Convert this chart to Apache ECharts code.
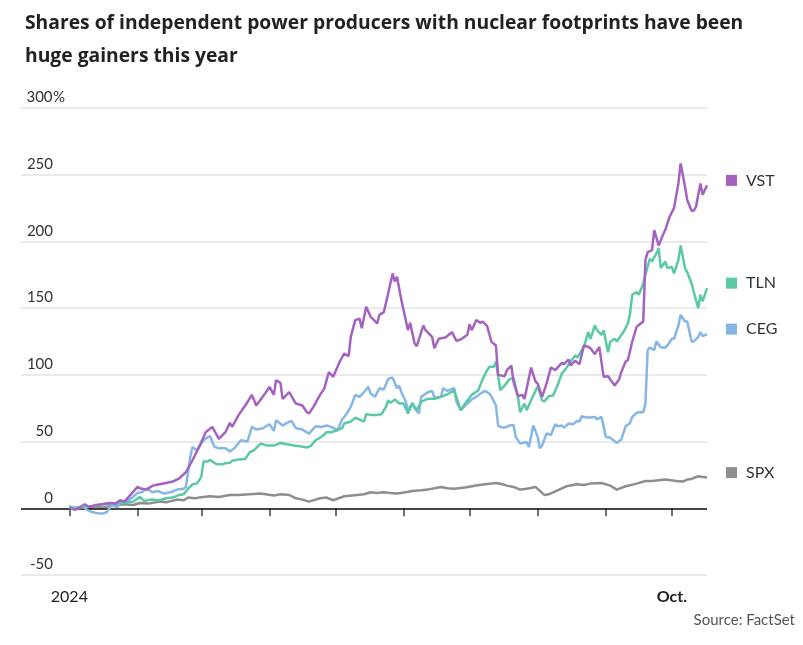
<!DOCTYPE html>
<html><head><meta charset="utf-8">
<script src="https://cdn.jsdelivr.net/npm/echarts@6/dist/echarts.min.js"></script>
<style>html,body{margin:0;padding:0;background:#fff}#c{width:803px;height:645px}</style>
</head><body><div id="c"></div>
<script>
const titleText = 'Shares of independent power producers with nuclear footprints have been\nhuge gainers this year';
const sourceText = 'Source: FactSet';
const seriesNames = ['VST', 'TLN', 'CEG', 'SPX'];
const seriesColors = ['#a463c0', '#5bc8a6', '#86b6e4', '#8e8e8e'];

const vst = [["2024-01-01",0],["2024-01-04",-1],["2024-01-06",1],["2024-01-08",3],["2024-01-10",1],["2024-01-13",2.5],["2024-01-16",3],["2024-01-19",4],["2024-01-22",3.5],["2024-01-24",6],["2024-01-26",5],["2024-01-28",8.5],["2024-02-01",16],["2024-02-02",15],["2024-02-05",14],["2024-02-08",17],["2024-02-11",18],["2024-02-14",19],["2024-02-17",20],["2024-02-20",22.5],["2024-02-23",27],["2024-02-26",36],["2024-02-29",46],["2024-03-03",57],["2024-03-06",61],["2024-03-09",52],["2024-03-12",57],["2024-03-14",64],["2024-03-15",61],["2024-03-18",70],["2024-03-21",77],["2024-03-24",85],["2024-03-26",77],["2024-03-30",86],["2024-04-01",91],["2024-04-03",85],["2024-04-04",96],["2024-04-06",94],["2024-04-07",82],["2024-04-10",87],["2024-04-13",78.5],["2024-04-16",77],["2024-04-18",72],["2024-04-19",71],["2024-04-21",76],["2024-04-24",85],["2024-04-26",90],["2024-04-28",102],["2024-04-30",98.5],["2024-05-03",110],["2024-05-05",116],["2024-05-07",114],["2024-05-08",128.5],["2024-05-10",141],["2024-05-12",142],["2024-05-13",135],["2024-05-15",151],["2024-05-17",143.5],["2024-05-18",142],["2024-05-20",138.5],["2024-05-21",145],["2024-05-23",147],["2024-05-25",161],["2024-05-27",176],["2024-05-28",170],["2024-05-29",173.5],["2024-05-31",156],["2024-06-02",141],["2024-06-03",133.5],["2024-06-04",139],["2024-06-06",123.5],["2024-06-07",121.5],["2024-06-10",137],["2024-06-11",133.5],["2024-06-14",128.5],["2024-06-15",120],["2024-06-17",127],["2024-06-20",128],["2024-06-23",132],["2024-06-25",125.5],["2024-06-27",126.5],["2024-06-30",130],["2024-07-01",138],["2024-07-02",133.5],["2024-07-04",141],["2024-07-06",139],["2024-07-07",140],["2024-07-09",136.5],["2024-07-11",124.7],["2024-07-13",122],["2024-07-14",100],["2024-07-17",99],["2024-07-18",103.5],["2024-07-20",107],["2024-07-21",95],["2024-07-23",84],["2024-07-25",85],["2024-07-26",82],["2024-07-29",105.5],["2024-07-31",95],["2024-08-01",93.5],["2024-08-03",83.5],["2024-08-05",93.5],["2024-08-07",105.5],["2024-08-09",103.5],["2024-08-12",109],["2024-08-13",108],["2024-08-15",111.5],["2024-08-16",107],["2024-08-18",110.5],["2024-08-20",108],["2024-08-22",122],["2024-08-24",121],["2024-08-25",120],["2024-08-27",115.5],["2024-08-29",121],["2024-08-31",98.5],["2024-09-02",99],["2024-09-03",96.5],["2024-09-05",92],["2024-09-07",96.5],["2024-09-08",102],["2024-09-10",110],["2024-09-11",111],["2024-09-13",125],["2024-09-15",136],["2024-09-18",140],["2024-09-19",186],["2024-09-20",192],["2024-09-22",193.5],["2024-09-23",208.5],["2024-09-25",197],["2024-09-27",205],["2024-09-28",208.5],["2024-09-30",218.5],["2024-10-02",225],["2024-10-04",243.5],["2024-10-05",258.5],["2024-10-07",241],["2024-10-08",231],["2024-10-10",223],["2024-10-11",223],["2024-10-12",226],["2024-10-14",243.5],["2024-10-15",235],["2024-10-17",242]];

const tln = [["2024-01-01",2],["2024-01-03",-1],["2024-01-06",1],["2024-01-09",1.5],["2024-01-12",1.5],["2024-01-16",3],["2024-01-21",3.5],["2024-01-26",4],["2024-01-30",5],["2024-02-02",8.5],["2024-02-04",5.5],["2024-02-07",6.5],["2024-02-11",6],["2024-02-14",7.5],["2024-02-17",8],["2024-02-20",10],["2024-02-22",10.5],["2024-02-24",14.7],["2024-02-26",18],["2024-02-28",18.5],["2024-03-01",23.5],["2024-03-02",35],["2024-03-04",35],["2024-03-05",36.5],["2024-03-06",35],["2024-03-08",33],["2024-03-11",33],["2024-03-12",34],["2024-03-14",34],["2024-03-15",35.5],["2024-03-16",36],["2024-03-18",36.5],["2024-03-21",37],["2024-03-23",42],["2024-03-25",43.5],["2024-03-28",48.5],["2024-03-31",47],["2024-04-03",47],["2024-04-06",49],["2024-04-09",48],["2024-04-12",47],["2024-04-15",46.5],["2024-04-18",45.5],["2024-04-20",47],["2024-04-22",51],["2024-04-25",54],["2024-04-27",57],["2024-04-29",57],["2024-05-02",58.5],["2024-05-04",60],["2024-05-05",63.5],["2024-05-08",65],["2024-05-10",68],["2024-05-12",66.5],["2024-05-14",65],["2024-05-15",70.5],["2024-05-17",70],["2024-05-20",70],["2024-05-22",70.5],["2024-05-24",76],["2024-05-25",81],["2024-05-26",79],["2024-05-28",81.5],["2024-05-30",78.5],["2024-06-01",78.5],["2024-06-03",71],["2024-06-05",78.5],["2024-06-07",73.5],["2024-06-09",80],["2024-06-12",82],["2024-06-15",82],["2024-06-18",83.5],["2024-06-21",85.5],["2024-06-24",88.5],["2024-06-26",78.5],["2024-06-27",73.5],["2024-06-29",78.5],["2024-07-02",85],["2024-07-05",88.5],["2024-07-07",97],["2024-07-09",103.5],["2024-07-10",106],["2024-07-12",106],["2024-07-13",110],["2024-07-15",88.5],["2024-07-17",92],["2024-07-19",96.5],["2024-07-21",98],["2024-07-23",83.5],["2024-07-24",72],["2024-07-26",78.5],["2024-07-27",73.5],["2024-07-29",81],["2024-08-01",91.5],["2024-08-03",81],["2024-08-04",80],["2024-08-06",84],["2024-08-08",84.5],["2024-08-10",92],["2024-08-12",101],["2024-08-14",105],["2024-08-16",110],["2024-08-18",114.5],["2024-08-19",113],["2024-08-22",121],["2024-08-24",132],["2024-08-25",127],["2024-08-27",137],["2024-08-28",133.5],["2024-08-30",130],["2024-08-31",133.5],["2024-09-02",117],["2024-09-03",125],["2024-09-05",127],["2024-09-06",125],["2024-09-08",130],["2024-09-09",132],["2024-09-11",138.5],["2024-09-12",146],["2024-09-13",160],["2024-09-15",162],["2024-09-16",160],["2024-09-18",168.5],["2024-09-19",175],["2024-09-21",187],["2024-09-22",185],["2024-09-24",191],["2024-09-25",195],["2024-09-26",180],["2024-09-28",185],["2024-09-29",180],["2024-10-01",181],["2024-10-02",176],["2024-10-04",186],["2024-10-05",197],["2024-10-07",180],["2024-10-08",177],["2024-10-10",168.5],["2024-10-11",162],["2024-10-13",150],["2024-10-14",160],["2024-10-15",155],["2024-10-17",165]];

const ceg = [["2024-01-01",1],["2024-01-05",0],["2024-01-07",1],["2024-01-10",-2],["2024-01-13",-3.5],["2024-01-16",-4],["2024-01-18",-3],["2024-01-20",2],["2024-01-23",1],["2024-01-24",5],["2024-01-27",5],["2024-01-30",8.5],["2024-02-01",11.5],["2024-02-03",12],["2024-02-05",14.7],["2024-02-08",12],["2024-02-10",13],["2024-02-13",11],["2024-02-16",12],["2024-02-19",14],["2024-02-22",14.7],["2024-02-23",16],["2024-02-25",38.5],["2024-02-26",46],["2024-02-28",43.5],["2024-03-02",51],["2024-03-04",53.5],["2024-03-05",54],["2024-03-07",46],["2024-03-09",45],["2024-03-12",45],["2024-03-14",42.5],["2024-03-16",45],["2024-03-19",51],["2024-03-22",50],["2024-03-24",61],["2024-03-26",59],["2024-03-29",60],["2024-04-01",63],["2024-04-03",58],["2024-04-04",66],["2024-04-07",62],["2024-04-09",64],["2024-04-11",65.5],["2024-04-13",60],["2024-04-16",59],["2024-04-19",56],["2024-04-22",61.5],["2024-04-25",61],["2024-04-27",62],["2024-04-29",61],["2024-05-02",58.5],["2024-05-04",66.5],["2024-05-06",70.5],["2024-05-08",76],["2024-05-10",85],["2024-05-12",83.5],["2024-05-14",87],["2024-05-16",91],["2024-05-17",86],["2024-05-19",83.5],["2024-05-21",90],["2024-05-23",89],["2024-05-25",97],["2024-05-27",98],["2024-05-29",90],["2024-05-30",92],["2024-05-31",87],["2024-06-02",80],["2024-06-03",73.5],["2024-06-05",79],["2024-06-06",75],["2024-06-08",71],["2024-06-09",83.5],["2024-06-12",87],["2024-06-14",88],["2024-06-15",83],["2024-06-18",83.5],["2024-06-19",90],["2024-06-21",88],["2024-06-24",90],["2024-06-25",80],["2024-06-27",73.5],["2024-06-29",77],["2024-07-02",81.5],["2024-07-04",83.5],["2024-07-06",86],["2024-07-08",88],["2024-07-10",86],["2024-07-11",83.5],["2024-07-13",77],["2024-07-14",62],["2024-07-16",60.5],["2024-07-18",61],["2024-07-19",62],["2024-07-21",62.5],["2024-07-22",53.5],["2024-07-24",48.5],["2024-07-25",49],["2024-07-27",49.5],["2024-07-28",46],["2024-07-30",62],["2024-08-01",53.5],["2024-08-02",45],["2024-08-03",47],["2024-08-05",56],["2024-08-07",55],["2024-08-09",63],["2024-08-10",61.5],["2024-08-12",62],["2024-08-13",60.5],["2024-08-15",63.5],["2024-08-17",63],["2024-08-19",65.5],["2024-08-20",65],["2024-08-21",69],["2024-08-23",68],["2024-08-25",68],["2024-08-27",68.5],["2024-08-28",66.5],["2024-08-30",68.5],["2024-09-01",53.5],["2024-09-03",53],["2024-09-04",51.5],["2024-09-06",49],["2024-09-08",51.5],["2024-09-10",61.5],["2024-09-12",64],["2024-09-13",68.5],["2024-09-15",71.5],["2024-09-16",72],["2024-09-18",72],["2024-09-19",78.5],["2024-09-20",118.5],["2024-09-21",120.5],["2024-09-23",118.5],["2024-09-24",125],["2024-09-26",120.5],["2024-09-28",120.5],["2024-09-29",122],["2024-10-01",127],["2024-10-02",127],["2024-10-04",137],["2024-10-05",145],["2024-10-07",140],["2024-10-08",140],["2024-10-10",125],["2024-10-11",125],["2024-10-13",128.5],["2024-10-14",132],["2024-10-15",129],["2024-10-17",130.5]];

const spx = [["2024-01-01",0],["2024-01-05",0.5],["2024-01-09",-0.5],["2024-01-12",1],["2024-01-16",0.5],["2024-01-19",1.5],["2024-01-23",2.5],["2024-01-26",3],["2024-01-30",2.5],["2024-02-02",4],["2024-02-06",3.5],["2024-02-11",5],["2024-02-14",4.5],["2024-02-19",6.5],["2024-02-22",6],["2024-02-24",8],["2024-02-27",7.5],["2024-02-29",8],["2024-03-05",9],["2024-03-09",8.5],["2024-03-14",10],["2024-03-18",10],["2024-03-23",10.5],["2024-03-28",11],["2024-04-03",9.5],["2024-04-06",10.5],["2024-04-10",10],["2024-04-13",7.5],["2024-04-16",6.5],["2024-04-19",5],["2024-04-24",7.5],["2024-04-27",8],["2024-04-30",6],["2024-05-05",9],["2024-05-11",10],["2024-05-14",10.5],["2024-05-17",12],["2024-05-20",11.5],["2024-05-23",12],["2024-05-26",11.5],["2024-05-29",11],["2024-06-02",12],["2024-06-05",13],["2024-06-09",13.5],["2024-06-12",14],["2024-06-15",15],["2024-06-18",16],["2024-06-21",15],["2024-06-24",14.7],["2024-06-29",15.5],["2024-07-04",17],["2024-07-08",18],["2024-07-13",19],["2024-07-16",18],["2024-07-18",17],["2024-07-21",16],["2024-07-24",14],["2024-07-27",14.7],["2024-07-31",16],["2024-08-02",13],["2024-08-04",10],["2024-08-06",10.5],["2024-08-10",13.5],["2024-08-14",16.5],["2024-08-19",18],["2024-08-22",17.5],["2024-08-25",18.5],["2024-08-30",19],["2024-09-03",17],["2024-09-06",14],["2024-09-10",16.5],["2024-09-15",18.5],["2024-09-19",20.5],["2024-09-22",20.5],["2024-09-25",21],["2024-09-28",21.5],["2024-10-03",20.5],["2024-10-06",20],["2024-10-08",21.5],["2024-10-10",22],["2024-10-13",24],["2024-10-15",23.5],["2024-10-17",23]];

const yMin = -50, yMax = 300, yStep = 50;
const xStart = '2023-12-10', xEnd = '2024-10-17';
const monthTicks = ['2024-01-01','2024-02-01','2024-03-01','2024-04-01','2024-05-01','2024-06-01','2024-07-01','2024-08-01','2024-09-01','2024-10-01'];
const labelTicks = ['2024-01-01','2024-10-01'];
const labelTexts = ['2024','Oct.'];

function ts(s){ const p = s.split('-').map(Number); return new Date(p[0], p[1]-1, p[2]).getTime(); }

const font = 'Lato, "DejaVu Sans", sans-serif';
const titleFont = '"Open Sans", Lato, sans-serif';
const chart = echarts.init(document.getElementById('c'), null, {renderer:'canvas'});
const dataSets = [vst, tln, ceg, spx];

const series = [];
for (let i = dataSets.length - 1; i >= 0; i--) {
  const name = seriesNames[i], color = seriesColors[i];
  const s = {
    name: name, type: 'line', showSymbol: false, symbol: 'none',
    data: dataSets[i].map(d => [ts(d[0]), d[1]]),
    lineStyle: {color: color, width: 2.5},
    itemStyle: {color: color},
    z: 3 + (dataSets.length - i),
    endLabel: {
      show: true, distance: 0, offset: [19, -5],
      formatter: '{sq|}{t|' + name + '}',
      rich: {
        sq: {width: 11, height: 11, backgroundColor: color},
        t: {fontFamily: font, fontSize: 16, color: '#333', padding: [0,0,0,9]}
      }
    }
  };
  if (i === dataSets.length - 1) {
    s.markLine = {silent: true, symbol: 'none', label: {show: false},
      lineStyle: {color: '#111', width: 1.5, type: 'solid'},
      data: [{yAxis: 0}], animation: false};
  }
  series.push(s);
}

chart.setOption({
  animation: false,
  backgroundColor: '#fff',
  title: [
    {text: titleText, left: 20, top: 2, padding: 5,
     textStyle: {fontFamily: titleFont, fontSize: 19.3, fontWeight: 'bold', color: '#222', lineHeight: 33}},
    {text: sourceText, right: 8, top: 613, padding: 0,
     textStyle: {fontFamily: font, fontSize: 15, fontWeight: 'normal', color: '#555'}}
  ],
  grid: {left: 21, right: 96, top: 108, bottom: 70, containLabel: false},
  xAxis: {
    type: 'value', min: ts(xStart), max: ts(xEnd),
    axisLine: {show: false},
    splitLine: {show: false},
    axisTick: {show: true, length: 8, lineStyle: {color: '#444', width: 1.5},
      customValues: monthTicks.map(ts)},
    axisLabel: {
      customValues: labelTicks.map(ts), margin: 14, showMinLabel: true, showMaxLabel: true,
      fontFamily: font, fontSize: 16, color: '#222',
      formatter: function (v) {
        for (let k = 0; k < labelTicks.length; k++) {
          if (Math.abs(ts(labelTicks[k]) - v) < 3600000) return k === labelTicks.length - 1 ? '{b|' + labelTexts[k] + '}' : labelTexts[k];
        }
        return '';
      },
      rich: {b: {fontFamily: font, fontSize: 16, fontWeight: 'bold', color: '#222'}}
    }
  },
  yAxis: {
    type: 'value', min: yMin, max: yMax, interval: yStep,
    axisLine: {show: false}, axisTick: {show: false},
    splitLine: {show: true, lineStyle: {color: '#e3e3e3', width: 1.5}},
    axisLabel: {
      inside: true, margin: 5, align: 'left', verticalAlign: 'bottom',
      padding: [0,0,3,0],
      fontFamily: font, fontSize: 15, color: '#333',
      formatter: function (v) { return '{n|' + v + '}' + (v === yMax ? '%' : ''); },
      rich: {n: {width: 27, align: 'right', fontFamily: font, fontSize: 15, color: '#333'}}
    }
  },
  series: series
});
</script>
</body></html>
